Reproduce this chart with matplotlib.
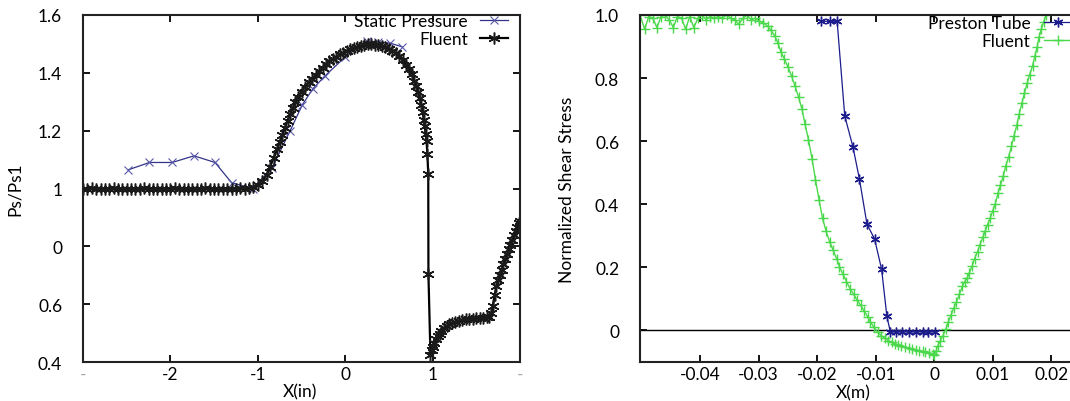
import matplotlib
matplotlib.use("Agg")
import matplotlib.pyplot as plt

plt.rcParams['font.family'] = ['Lato', 'DejaVu Sans']
plt.rcParams['font.size'] = 12.5

# ---- left panel: static pressure ----
sp_x = [-2.48, -2.24, -1.98, -1.73, -1.49, -1.30, -1.06, -0.84, -0.63, -0.49, -0.37, -0.23, 0.0, 0.25, 0.38, 0.51, 0.65]
sp_y = [1.065, 1.09, 1.09, 1.113, 1.09, 1.02, 1.0, 1.07, 1.2, 1.29, 1.345, 1.39, 1.455, 1.51, 1.507, 1.503, 1.49]

fl_x = [-3.00, -2.95, -2.90, -2.85, -2.80, -2.75, -2.70, -2.65, -2.60, -2.55, -2.50, -2.45, -2.40,
        -2.35, -2.30, -2.25, -2.20, -2.15, -2.10, -2.05, -2.00, -1.95, -1.90, -1.85, -1.80, -1.75,
        -1.70, -1.65, -1.60, -1.55, -1.50, -1.45, -1.40, -1.35, -1.30, -1.25, -1.20, -1.15, -1.10,
        -1.05, -1.00, -0.95, -0.90, -0.86, -0.82, -0.78, -0.75, -0.72, -0.69, -0.66, -0.63, -0.60,
        -0.57, -0.54, -0.50, -0.46, -0.42, -0.38, -0.34, -0.30, -0.26, -0.22, -0.18, -0.14, -0.10,
        -0.06, -0.02, 0.02, 0.06, 0.10, 0.14, 0.18, 0.22, 0.26, 0.30, 0.34, 0.38, 0.42, 0.46, 0.50,
        0.54, 0.58, 0.62, 0.66, 0.70, 0.73, 0.76, 0.79, 0.81, 0.83, 0.85, 0.87, 0.885, 0.90, 0.91,
        0.92, 0.93, 0.94, 0.95, 0.952, 0.975, 0.99, 1.00, 1.02, 1.04, 1.06, 1.08, 1.10, 1.13, 1.16,
        1.19, 1.22, 1.26, 1.30, 1.34, 1.38, 1.42, 1.46, 1.50, 1.54, 1.58, 1.62, 1.65, 1.67, 1.69,
        1.71, 1.73, 1.75, 1.77, 1.79, 1.81, 1.83, 1.85, 1.87, 1.89, 1.91, 1.93, 1.95, 1.97, 1.99, 2.00]
fl_y = [1.0, 1.0, 1.001, 1.0, 0.999, 1.0, 1.0, 1.001, 1.0, 1.0, 0.999, 1.0, 1.0,
        1.0, 1.001, 1.0, 1.0, 0.999, 1.0, 1.0, 1.0, 1.001, 1.0, 1.0, 1.0, 0.999,
        1.0, 1.0, 1.001, 1.0, 1.0, 1.0, 0.999, 1.0, 1.0, 1.0, 1.001, 1.0, 1.002,
        1.005, 1.012, 1.025, 1.045, 1.075, 1.105, 1.135, 1.160, 1.185, 1.21, 1.235, 1.257, 1.28,
        1.30, 1.318, 1.335, 1.352, 1.367, 1.38, 1.393, 1.405, 1.418, 1.43, 1.44, 1.448, 1.456,
        1.465, 1.47, 1.476, 1.482, 1.487, 1.49, 1.494, 1.496, 1.498, 1.498, 1.497, 1.496, 1.493, 1.489, 1.484,
        1.477, 1.468, 1.458, 1.445, 1.428, 1.413, 1.395, 1.373, 1.355, 1.335, 1.313, 1.29, 1.265, 1.238, 1.215,
        1.19, 1.165, 1.12, 1.05, 0.704, 0.425, 0.44, 0.452, 0.465, 0.478, 0.489, 0.498, 0.506, 0.516, 0.524,
        0.530, 0.535, 0.539, 0.542, 0.545, 0.547, 0.549, 0.550, 0.551, 0.552, 0.553, 0.554, 0.557, 0.568, 0.595,
        0.632, 0.662, 0.685, 0.700, 0.718, 0.738, 0.757, 0.773, 0.790, 0.806, 0.822, 0.838, 0.852, 0.866, 0.88, 0.887]

left_xticks = [-3, -2, -1, 0, 1, 2]
left_xlabels = ['-', '-2', '-1', '0', '1', '-']
left_yticks = [0.4, 0.6, 0.8, 1.0, 1.2, 1.4, 1.6]
left_ylabels = ['0.4', '0.6', '0', '1', '1.2', '1.4', '1.6']

# ---- right panel: shear stress ----
pt_x = [-0.0194, -0.0179, -0.0166, -0.0153, -0.0139, -0.0128, -0.0115, -0.0102, -0.0090, -0.0081,
        -0.0075, -0.0065, -0.0055, -0.0043, -0.0031, -0.0020, -0.0010, 0.0002]
pt_y = [0.98, 0.98, 0.98, 0.68, 0.582, 0.481, 0.337, 0.29, 0.194, 0.045,
        -0.005, -0.005, -0.005, -0.005, -0.005, -0.005, -0.005, -0.005]

gf_x = [-0.0503, -0.0495, -0.0488, -0.0481, -0.0474, -0.0467, -0.0460, -0.0453, -0.0446, -0.0439,
        -0.0432, -0.0425, -0.0418, -0.0411, -0.0404, -0.0397, -0.0390, -0.0383, -0.0376, -0.0369,
        -0.0362, -0.0355, -0.0348, -0.0341, -0.0334, -0.0327, -0.0320, -0.0313, -0.0306, -0.0299,
        -0.0292, -0.0285, -0.0279, -0.0273, -0.0267, -0.0262, -0.0256, -0.0250, -0.0244, -0.0238,
        -0.0232, -0.0226, -0.0221, -0.0215, -0.0209, -0.0203, -0.0197, -0.0191, -0.0185, -0.0179,
        -0.0173, -0.0167, -0.0162, -0.0156, -0.0150, -0.0144, -0.0138, -0.0132, -0.0126, -0.0120,
        -0.0114, -0.0109, -0.0103, -0.0097, -0.0091, -0.0085, -0.0079, -0.0073, -0.0067, -0.0062,
        -0.0056, -0.0050, -0.0044, -0.0038, -0.0032, -0.0026, -0.0020, -0.0015, -0.0009, -0.0003,
        0.0000, 0.0003, 0.0006, 0.0010, 0.0015, 0.0020, 0.0024, 0.0029, 0.0033, 0.0038,
        0.0043, 0.0048, 0.0052, 0.0056, 0.0060, 0.0065, 0.0069, 0.0074, 0.0078, 0.0083,
        0.0087, 0.0091, 0.0096, 0.0100, 0.0104, 0.0109, 0.0113, 0.0118, 0.0122, 0.0127,
        0.0132, 0.0136, 0.0141, 0.0145, 0.0150, 0.0154, 0.0159, 0.0163, 0.0168, 0.0172,
        0.0176, 0.0179, 0.0183, 0.0187, 0.0191, 0.0195, 0.0200]
gf_y = [1.0, 0.955, 0.995, 0.99, 0.96, 0.995, 1.0, 0.985, 0.96, 0.995,
        0.99, 0.955, 0.995, 0.96, 0.99, 1.0, 0.985, 0.995, 0.99, 0.995,
        0.99, 1.0, 0.99, 0.985, 0.97, 0.99, 1.0, 0.985, 0.99, 0.98,
        0.975, 0.965, 0.951, 0.935, 0.91, 0.882, 0.86, 0.835, 0.807, 0.775,
        0.74, 0.701, 0.655, 0.605, 0.545, 0.478, 0.415, 0.356, 0.315, 0.282,
        0.255, 0.228, 0.202, 0.178, 0.155, 0.133, 0.115, 0.097, 0.080, 0.062,
        0.044, 0.027, 0.010, -0.005, -0.016, -0.024, -0.032, -0.037, -0.042, -0.045,
        -0.048, -0.052, -0.055, -0.058, -0.061, -0.064, -0.066, -0.069, -0.071, -0.074,
        -0.077, -0.066, -0.048, -0.034, -0.016, 0.005, 0.027, 0.050, 0.070, 0.090,
        0.115, 0.140, 0.155, 0.165, 0.183, 0.205, 0.228, 0.250, 0.272, 0.295,
        0.315, 0.335, 0.358, 0.380, 0.400, 0.435, 0.460, 0.490, 0.520, 0.550,
        0.584, 0.615, 0.650, 0.685, 0.722, 0.752, 0.785, 0.810, 0.839, 0.870,
        0.900, 0.930, 0.955, 0.978, 0.999, 1.02, 1.05]

right_xticks = [-0.04, -0.03, -0.02, -0.01, 0, 0.01, 0.02]
right_xlabels = ['-0.04', '-0.03', '-0.02', '-0.01', '0', '0.01', '0.02']
right_yticks = [0, 0.2, 0.4, 0.6, 0.8, 1.0]
right_ylabels = ['0', '0.2', '0.4', '0.6', '0.8', '1.0']

asterisk = (6, 2, 0)

fig = plt.figure(figsize=(10.7, 4.02), dpi=100)
ax1 = fig.add_axes([0.0776, 0.097, 0.4084, 0.8632])
ax2 = fig.add_axes([0.5981, 0.097, 0.4019, 0.8632])

# left
ax1.plot(sp_x, sp_y, color='#34348a', lw=0.9, marker='x', ms=6, mew=0.8,
         mec='#5a5aa8', label='Static Pressure')
ax1.plot(fl_x, fl_y, color='black', lw=1.6, marker=asterisk, ms=8.5, mew=1.1,
         mec='#1a1a1a', label='Fluent')
ax1.set_xlim(-3, 2)
ax1.set_ylim(0.4, 1.6)
ax1.set_xticks(left_xticks)
ax1.set_xticklabels(left_xlabels)
ax1.set_yticks(left_yticks)
ax1.set_yticklabels(left_ylabels)
for t in (ax1.get_xticklabels()[0], ax1.get_xticklabels()[-1]):
    t.set_color('#aaaaaa')
ax1.set_xlabel('X(in)')
ax1.set_ylabel('Ps/Ps1')
ax1.xaxis.set_label_coords(0.497, -0.084)
ax1.yaxis.set_label_coords(-0.156, 0.5)
ax1.legend(loc='upper right', bbox_to_anchor=(0.9725, 1.005), frameon=False,
           markerfirst=False, handlelength=1.6, handletextpad=0.7,
           labelspacing=0.1, borderpad=0, borderaxespad=0)
ax1.tick_params(direction='in', length=5, width=1.3, top=True, right=True)
ax1.tick_params(axis='y', pad=15)
ax1.tick_params(axis='x', pad=3)

# right
ax2.plot(pt_x, pt_y, color='#1c1c8c', lw=0.9, marker=asterisk, ms=7, mew=1.0,
         label='Preston Tube')
ax2.plot(gf_x, gf_y, color='#4cd84c', lw=1.0, marker='+', ms=7, mew=1.0,
         label='Fluent')
ax2.axhline(0, color='black', lw=1.0, zorder=1.5)
ax2.set_xlim(-0.0503, 0.0232)
ax2.set_ylim(-0.1, 1.0)
ax2.set_xticks(right_xticks)
ax2.set_xticklabels(right_xlabels)
ax2.set_yticks(right_yticks)
ax2.set_yticklabels(right_ylabels)
ax2.set_xlabel('X(m)')
ax2.set_ylabel('Normalized Shear Stress')
ax2.xaxis.set_label_coords(0.497, -0.087)
ax2.yaxis.set_label_coords(-0.17, 0.5)
ax2.spines['right'].set_visible(False)
ax2.legend(loc='upper right', bbox_to_anchor=(1.005, 1.0), frameon=False,
           markerfirst=False, handlelength=1.6, handletextpad=0.8,
           labelspacing=0.1, borderpad=0, borderaxespad=0)
ax2.tick_params(direction='in', length=5, width=1.3, top=True, right=False)
ax2.tick_params(axis='y', pad=15)
ax2.tick_params(axis='x', pad=3)

for ax in (ax1, ax2):
    for s in ax.spines.values():
        s.set_linewidth(1.5)
        s.set_color('#222222')
    ax.xaxis.label.set_verticalalignment('center')
    ax.yaxis.label.set_verticalalignment('center')

fig.savefig('out.png', dpi=100)
